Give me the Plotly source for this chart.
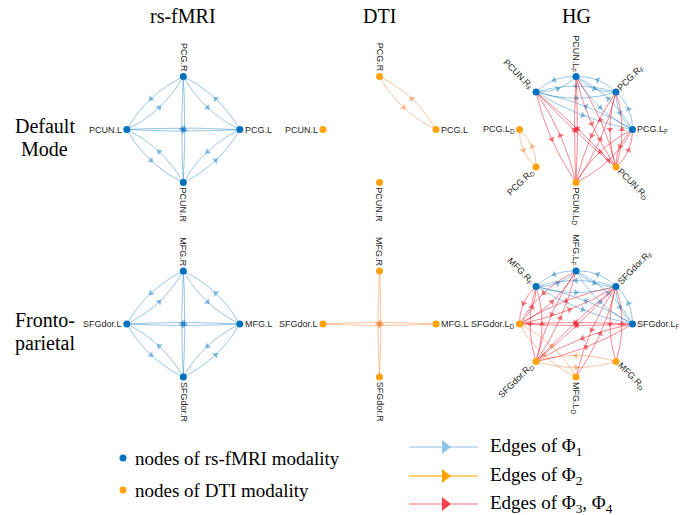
import math
import plotly.graph_objects as go

W, H = 697, 515

# ---- node names, in circular-layout order (counter-clockwise from 3 o'clock) ----
DMN_NODES = ["PCG.L", "PCG.R", "PCUN.L", "PCUN.R"]
FP_NODES = ["MFG.L", "MFG.R", "SFGdor.L", "SFGdor.R"]
DMN_HG_NODES = ["PCG.L_F", "PCG.R_F", "PCUN.L_F", "PCUN.R_F",
                "PCG.L_D", "PCG.R_D", "PCUN.L_D", "PCUN.R_D"]
FP_HG_NODES = ["SFGdor.L_F", "SFGdor.R_F", "MFG.L_F", "MFG.R_F",
               "SFGdor.L_D", "SFGdor.R_D", "MFG.L_D", "MFG.R_D"]

# ---- connections (each pair is a reciprocal edge, drawn in both directions) ----
DMN_FMRI_PAIRS = [("PCG.L", "PCG.R"), ("PCG.L", "PCUN.L"), ("PCG.L", "PCUN.R"),
                  ("PCG.R", "PCUN.L"), ("PCG.R", "PCUN.R"), ("PCUN.L", "PCUN.R")]
FP_FMRI_PAIRS = [("MFG.L", "MFG.R"), ("MFG.L", "SFGdor.L"), ("MFG.L", "SFGdor.R"),
                 ("MFG.R", "SFGdor.L"), ("MFG.R", "SFGdor.R"), ("SFGdor.L", "SFGdor.R")]
DMN_DTI_PAIRS = [("PCG.R", "PCG.L")]
FP_DTI_PAIRS = [("SFGdor.L", "MFG.L"), ("MFG.R", "SFGdor.R")]

DMN_HG_PHI1 = [("PCG.L_F", "PCG.R_F"), ("PCG.L_F", "PCUN.L_F"), ("PCG.L_F", "PCUN.R_F"),
               ("PCG.R_F", "PCUN.L_F"), ("PCG.R_F", "PCUN.R_F"), ("PCUN.L_F", "PCUN.R_F")]
DMN_HG_PHI2 = [("PCG.L_D", "PCG.R_D")]
DMN_HG_PHI34 = [("PCG.L_F", "PCUN.L_D"), ("PCG.L_F", "PCUN.R_D"),
                ("PCG.R_F", "PCUN.L_D"), ("PCG.R_F", "PCUN.R_D"),
                ("PCUN.L_F", "PCUN.L_D"), ("PCUN.L_F", "PCUN.R_D"),
                ("PCUN.R_F", "PCUN.L_D"), ("PCUN.R_F", "PCUN.R_D")]

FP_HG_PHI1 = [("SFGdor.L_F", "SFGdor.R_F"), ("SFGdor.L_F", "MFG.L_F"), ("SFGdor.L_F", "MFG.R_F"),
              ("SFGdor.R_F", "MFG.L_F"), ("SFGdor.R_F", "MFG.R_F"), ("MFG.L_F", "MFG.R_F")]
FP_HG_PHI2 = [("SFGdor.L_D", "MFG.L_D"), ("SFGdor.R_D", "MFG.R_D")]
FP_HG_PHI34 = [("SFGdor.L_F", "SFGdor.L_D"), ("SFGdor.L_F", "SFGdor.R_D"),
               ("SFGdor.R_F", "SFGdor.L_D"), ("SFGdor.R_F", "SFGdor.R_D"),
               ("SFGdor.R_F", "MFG.R_D"), ("SFGdor.R_F", "MFG.L_D"),
               ("MFG.L_F", "SFGdor.L_D"), ("MFG.L_F", "SFGdor.R_D"),
               ("MFG.R_F", "SFGdor.L_D"), ("MFG.R_F", "SFGdor.R_D")]

COLUMN_TITLES = ["rs-fMRI", "DTI", "HG"]
ROW_TITLES = [["Default", "Mode"], ["Fronto-", "parietal"]]
NODE_LEGEND = ["nodes of rs-fMRI modality", "nodes of DTI modality"]
EDGE_LEGEND = ["Edges of Φ<sub>1</sub>", "Edges of Φ<sub>2</sub>",
               "Edges of Φ<sub>3</sub>, Φ<sub>4</sub>"]

# ---- styling ----
NODE_BLUE = "#0072BD"
NODE_ORANGE = "#FFA20D"
EDGE_COL = {
    "phi1": "rgba(0,114,189,0.45)",
    "phi2": "rgba(245,125,45,0.5)",
    "phi34": "rgba(238,35,50,0.6)",
}
LEG_LINE = {"phi1": "#B3D5EE", "phi2": "#FFC24A", "phi34": "#F79CA4"}
LEG_HEAD = {"phi1": "#91C3E8", "phi2": "#FFA500", "phi34": "#F0434E"}

COL_X = [183.3, 379.5, 576.0]
ROW_Y = [129.6, 324.0]
RX, RY = 56.5, 53.0
LABEL_GAP = 5.0
LABEL_SIZE = 9
SERIF = "Liberation Serif, Times New Roman, serif"
SANS = "Liberation Sans, Arial, sans-serif"

# Arial advance widths (em) for label-size estimates
CW = {'P': .667, 'C': .722, 'U': .722, 'N': .722, '.': .278, 'L': .556, 'R': .722,
      'G': .778, 'M': .833, 'F': .611, 'S': .667, 'd': .556, 'o': .556, 'r': .333,
      'D': .722}


def label_html(name):
    if "_" in name:
        base, sub = name.split("_")
        return f"{base}<sub>{sub}</sub>", base, sub
    return name, name, ""


def label_width(base, sub):
    w = sum(CW.get(c, .6) for c in base) * LABEL_SIZE
    w += sum(CW.get(c, .6) for c in sub) * LABEL_SIZE * 0.7
    return w


def layout_positions(nodes, cx, cy):
    n = len(nodes)
    pos = {}
    for k, name in enumerate(nodes):
        th = 2 * math.pi * k / n
        pos[name] = (cx + RX * math.cos(th), cy - RY * math.sin(th), th)
    return pos


fig = go.Figure()
annotations = []


def add_edges(pos, pairs, key):
    """Reciprocal edges as two curves bowing to either side, arrow at mid-curve."""
    xs, ys, ax, ay, ang = [], [], [], [], []
    for a, b in pairs:
        for s, t in ((a, b), (b, a)):
            x0, y0, th0 = pos[s]
            x1, y1, th1 = pos[t]
            dx, dy = x1 - x0, y1 - y0
            L = math.hypot(dx, dy)
            nx, ny = -dy / L, dx / L  # right-hand side of travel (screen coords)
            off = 1.5 + 4.5 * abs(math.sin(th1 - th0))
            mx, my = (x0 + x1) / 2, (y0 + y1) / 2
            qx, qy = mx + 2 * off * nx, my + 2 * off * ny
            for i in range(25):
                u = i / 24
                xs.append((1 - u) ** 2 * x0 + 2 * u * (1 - u) * qx + u ** 2 * x1)
                ys.append((1 - u) ** 2 * y0 + 2 * u * (1 - u) * qy + u ** 2 * y1)
            xs.append(None)
            ys.append(None)
            ax.append(mx + off * nx)
            ay.append(my + off * ny)
            ang.append(math.degrees(math.atan2(dx, -dy)))
    fig.add_trace(go.Scatter(x=xs, y=ys, mode="lines", hoverinfo="skip",
                             line=dict(color=EDGE_COL[key], width=0.9)))
    fig.add_trace(go.Scatter(x=ax, y=ay, mode="markers", hoverinfo="skip",
                             marker=dict(symbol="triangle-up", size=6, angle=ang,
                                         color=EDGE_COL[key], line=dict(width=0))))


def add_labels(pos, nodes):
    """Radially oriented node labels, as in a circular graph layout."""
    for name in nodes:
        x, y, th = pos[name]
        html, base, sub = label_html(name)
        w = label_width(base, sub)
        deg = math.degrees(th) % 360
        if 90 <= deg < 270:
            ta = 180 - deg
        else:
            ta = -deg
        ta = (ta + 180) % 360 - 180
        if ta == -90:
            ta = 90
        d = LABEL_GAP + w / 2
        annotations.append(dict(
            x=x + d * math.cos(th), y=y - d * math.sin(th), text=html, showarrow=False,
            textangle=ta, xanchor="center", yanchor="middle", borderpad=0,
            font=dict(family=SANS, size=LABEL_SIZE, color="#262626")))


panels = [
    (DMN_NODES, 0, 0, "fmri", [(DMN_FMRI_PAIRS, "phi1")]),
    (DMN_NODES, 1, 0, "dti", [(DMN_DTI_PAIRS, "phi2")]),
    (DMN_HG_NODES, 2, 0, "hg", [(DMN_HG_PHI1, "phi1"), (DMN_HG_PHI2, "phi2"),
                               (DMN_HG_PHI34, "phi34")]),
    (FP_NODES, 0, 1, "fmri", [(FP_FMRI_PAIRS, "phi1")]),
    (FP_NODES, 1, 1, "dti", [(FP_DTI_PAIRS, "phi2")]),
    (FP_HG_NODES, 2, 1, "hg", [(FP_HG_PHI1, "phi1"), (FP_HG_PHI2, "phi2"),
                              (FP_HG_PHI34, "phi34")]),
]

blue_x, blue_y, orange_x, orange_y = [], [], [], []
for nodes, ci, ri, kind, groups in panels:
    pos = layout_positions(nodes, COL_X[ci], ROW_Y[ri])
    for pairs, key in groups:
        add_edges(pos, pairs, key)
    for name in nodes:
        x, y, _ = pos[name]
        if kind == "dti" or (kind == "hg" and name.endswith("_D")):
            orange_x.append(x); orange_y.append(y)
        else:
            blue_x.append(x); blue_y.append(y)
    add_labels(pos, nodes)

fig.add_trace(go.Scatter(x=blue_x, y=blue_y, mode="markers", hoverinfo="skip",
                         marker=dict(color=NODE_BLUE, size=7, line=dict(width=0))))
fig.add_trace(go.Scatter(x=orange_x, y=orange_y, mode="markers", hoverinfo="skip",
                         marker=dict(color=NODE_ORANGE, size=7, line=dict(width=0))))

# ---- column and row titles ----
for title, cx in zip(COLUMN_TITLES, COL_X):
    annotations.append(dict(x=cx, y=16, text=title, showarrow=False,
                            xanchor="center", yanchor="middle",
                            font=dict(family=SERIF, size=20, color="black")))
for lines, ry in zip(ROW_TITLES, ROW_Y):
    for j, t in enumerate(lines):
        annotations.append(dict(x=44.5, y=ry - 4 + 23 * j, text=t, showarrow=False,
                                xanchor="center", yanchor="middle",
                                font=dict(family=SERIF, size=20, color="black")))

# ---- legend: node modalities ----
LEG_NODE_Y = [458, 490]
for txt, ly, col in zip(NODE_LEGEND, LEG_NODE_Y, [NODE_BLUE, NODE_ORANGE]):
    fig.add_trace(go.Scatter(x=[123], y=[ly], mode="markers", hoverinfo="skip",
                             marker=dict(color=col, size=7, line=dict(width=0))))
    annotations.append(dict(x=133, y=ly, text=txt, showarrow=False,
                            xanchor="left", yanchor="middle",
                            font=dict(family=SERIF, size=19, color="black")))

# ---- legend: edge types ----
LEG_EDGE_Y = [447, 476, 504]
for txt, ly, key in zip(EDGE_LEGEND, LEG_EDGE_Y, ["phi1", "phi2", "phi34"]):
    fig.add_trace(go.Scatter(x=[409, 478], y=[ly, ly], mode="lines", hoverinfo="skip",
                             line=dict(color=LEG_LINE[key], width=1.3)))
    fig.add_trace(go.Scatter(x=[445], y=[ly], mode="markers", hoverinfo="skip",
                             marker=dict(symbol="triangle-right", size=12,
                                         color=LEG_HEAD[key], line=dict(width=0))))
    annotations.append(dict(x=488, y=ly, text=txt, showarrow=False,
                            xanchor="left", yanchor="middle",
                            font=dict(family=SERIF, size=19, color="black")))

fig.update_layout(
    width=W, height=H, margin=dict(l=0, r=0, t=0, b=0),
    paper_bgcolor="white", plot_bgcolor="white", showlegend=False,
    xaxis=dict(range=[0, W], visible=False, fixedrange=True),
    yaxis=dict(range=[H, 0], visible=False, fixedrange=True),
    annotations=annotations,
)

fig.write_html("out.html")
